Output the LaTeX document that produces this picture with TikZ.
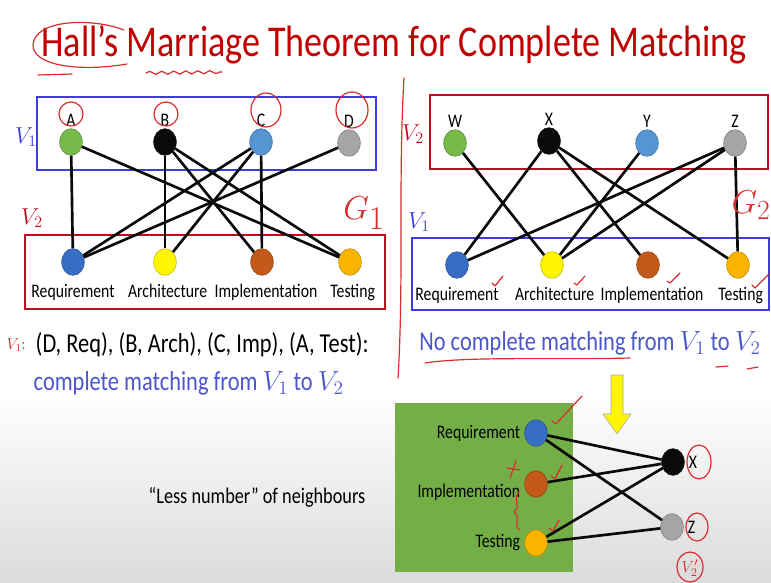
\documentclass[tikz,border=0pt]{standalone}
\usepackage{fontspec}
\setmainfont{Carlito}[FakeStretch=0.82]
\usetikzlibrary{shapes.geometric,calc,decorations.pathmorphing}
\definecolor{ttlred}{RGB}{192,0,0}
\definecolor{setblue}{RGB}{60,60,225}
\definecolor{setred}{RGB}{185,15,30}
\definecolor{txtblue}{RGB}{75,85,205}
\definecolor{inkred}{RGB}{215,45,45}
\definecolor{vgreen}{RGB}{120,185,75}
\definecolor{vblack}{RGB}{10,10,10}
\definecolor{vsky}{RGB}{85,150,210}
\definecolor{vgray}{RGB}{165,165,165}
\definecolor{vblue}{RGB}{55,110,195}
\definecolor{vyellow}{RGB}{255,245,0}
\definecolor{vbrown}{RGB}{195,90,25}
\definecolor{vorange}{RGB}{250,180,0}
\definecolor{boxgreen}{RGB}{115,175,70}
\tikzset{
  vtx/.style={ellipse,draw=#1!75!black,fill=#1,
              minimum width=17pt,minimum height=20pt,inner sep=0pt},
  lbl/.style={font=\fontsize{14.4}{16}\selectfont,inner sep=1pt},
  link/.style={line width=2pt,vblack},
  setbox/.style={line width=2pt},
  big/.style={font=\fontsize{20.5}{24}\selectfont},
  setlbl/.style={font=\fontsize{18}{20}\selectfont},
  ink/.style={inkred,line width=0.9pt,line cap=round,line join=round},
}

\begin{document}
\begin{tikzpicture}[x=0.75pt,y=-0.75pt]
\useasboundingbox (0,0) rectangle (771,582);
\shade[top color=white,bottom color=black!14] (0,392) rectangle (771,582);

% title
\node[text=ttlred,font=\fontsize{33}{38}\selectfont] (ttl) at (394,45)
  {Hall’s Marriage Theorem for Complete Matching};

% left graph G1
\draw[setbox,setblue] (37,97) rectangle (376,170);
\draw[setbox,setred] (25,235) rectangle (385,309);
\node[setlbl,text=setblue] (lv1) at (26,137) {$V_1$};
\node[setlbl,text=setred] (lv2) at (32,218) {$V_2$};
\node[vtx=vgreen,label={[lbl]above:A}] (a) at (71,142) {};
\node[vtx=vblack,label={[lbl]above:B}] (b) at (165,142) {};
\node[vtx=vsky,label={[lbl]above:C}] (c) at (261,142) {};
\node[vtx=vgray,label={[lbl]above:D}] (d) at (349,143) {};
\node[vtx=vblue,label={[lbl,yshift=-5pt]below:Requirement}] (lreq) at (73,262) {};
\node[vtx=vyellow,label={[lbl,yshift=-5pt,xshift=2pt]below:Architecture}] (larch) at (165,262) {};
\node[vtx=vbrown,label={[lbl,yshift=-5pt,xshift=3pt]below:Implementation}] (limp) at (262,262) {};
\node[vtx=vorange,label={[lbl,yshift=-5pt,xshift=2pt]below:Testing}] (ltst) at (350,262) {};
\draw[link] (a) -- (lreq);  \draw[link] (a) -- (ltst);
\draw[link] (b) -- (larch); \draw[link] (b) -- (limp); \draw[link] (b) -- (ltst);
\draw[link] (c) -- (lreq);  \draw[link] (c) -- (larch); \draw[link] (c) -- (limp);
\draw[link] (d) -- (lreq);

\node[big,anchor=west] (mtch) at (31,345) {(D, Req), (B, Arch), (C, Imp), (A, Test):};
\node[big,anchor=west,text=txtblue] (cmpl) at (29,383) {complete matching from $V_1$ to $V_2$};

% right graph G2
\draw[setbox,setred] (430,95) rectangle (768,169);
\draw[setbox,setblue] (412,238) rectangle (769,310);
\node[setlbl,text=setred] (rv2) at (413,134) {$V_2$};
\node[setlbl,text=setblue] (rv1) at (419,222) {$V_1$};
\node[vtx=vgreen,label={[lbl]above:W}] (w) at (455,143) {};
\node[vtx=vblack,label={[lbl]above:X}] (x) at (549,141) {};
\node[vtx=vsky,label={[lbl]above:Y}] (y) at (647,143) {};
\node[vtx=vgray,label={[lbl]above:Z}] (z) at (735,143) {};
\node[vtx=vblue,label={[lbl,yshift=-5pt]below:Requirement}] (rreq) at (457,265) {};
\node[vtx=vyellow,label={[lbl,yshift=-5pt,xshift=2pt]below:Architecture}] (rarch) at (552,265) {};
\node[vtx=vbrown,label={[lbl,yshift=-5pt,xshift=3pt]below:Implementation}] (rimp) at (648,265) {};
\node[vtx=vorange,label={[lbl,yshift=-5pt,xshift=2pt]below:Testing}] (rtst) at (738,265) {};
\draw[link] (w) -- (rarch);
\draw[link] (x) -- (rreq);  \draw[link] (x) -- (rimp); \draw[link] (x) -- (rtst);
\draw[link] (y) -- (rarch);
\draw[link] (z) -- (rreq);  \draw[link] (z) -- (rarch); \draw[link] (z) -- (rtst);

\node[big,text=txtblue] (nocm) at (590,343) {No complete matching from $V_1$ to $V_2$};

% arrow down to subgraph
\fill[vyellow,draw=black!35] (611,375) -- (623,375) -- (623,414) -- (631,414)
  -- (617,434) -- (603,414) -- (611,414) -- cycle;

% subgraph
\fill[boxgreen] (395,403) rectangle (573,572);
\node[vtx=vblue,label={[lbl,xshift=-2pt]left:Requirement}] (greq) at (536,433) {};
\node[vtx=vbrown,label={[lbl,xshift=-2pt,yshift=-6pt]left:Implementation}] (gimp) at (536,484) {};
\node[vtx=vorange,label={[lbl,xshift=-2pt]left:Testing}] (gtst) at (536,543) {};
\node[vtx=vblack,label={[lbl,xshift=2pt]right:X}] (gx) at (673,462) {};
\node[vtx=vgray,label={[lbl,xshift=2pt]right:Z}] (gz) at (672,527) {};
\draw[link] (greq) -- (gx); \draw[link] (greq) -- (gz);
\draw[link] (gimp) -- (gx);
\draw[link] (gtst) -- (gx); \draw[link] (gtst) -- (gz);

\node[font=\fontsize{16.7}{20}\selectfont] (less) at (257,497) {“Less number” of neighbours};

% pen marks
\draw[ink] (124,30) .. controls (90,17) and (34,20) .. (33,45)
  .. controls (33,66) and (80,72) .. (127,64);
\draw[ink] (38,75) -- (72,74);
\draw[ink,decorate,decoration={snake,amplitude=1.2pt,segment length=9pt}] (146,73) -- (222,72);
\draw[ink] (71,114) circle (12);
\draw[ink] (166,114) circle (12);
\draw[ink] (266,110) ellipse (15 and 17);
\draw[ink] (352,110) ellipse (16 and 18);
\draw[ink] (404,78) .. controls (398,180) and (404,280) .. (398,378);
\node[text=inkred,font=\fontsize{34}{36}\selectfont] (g1) at (364,213) {$G_1$};
\node[text=inkred,font=\fontsize{28}{30}\selectfont] (g2) at (751,205) {$G_2$};
\node[text=inkred,font=\fontsize{12}{14}\selectfont] (hv1) at (16,345) {$V_1$:};
\draw[ink] (492,283) -- (495,286) -- (503,276);
\draw[ink] (574,283) -- (577,285) -- (585,276);
\draw[ink] (667,281) -- (670,283) -- (680,273);
\draw[ink] (752,285) -- (755,288) -- (769,274);
\draw[ink] (425,363) .. controls (470,356) and (560,360) .. (630,358);
\draw[ink] (716,367) -- (728,366);
\draw[ink] (747,369) -- (758,367);
\draw[ink] (552,421) -- (556,424) -- (582,396);
\draw[ink] (551,476) -- (555,479) -- (562,465);
\draw[ink] (549,528) -- (553,531) -- (559,520);
\draw[ink] (507,468) -- (520,470);
\draw[ink] (516,461) -- (510,478);
\draw[ink] (519,492) .. controls (512,500) and (522,505) .. (514,512)
  .. controls (522,518) and (512,525) .. (520,530);
\draw[ink] (699,462) ellipse (12 and 17);
\draw[ink] (697,527) ellipse (11 and 14);
\node[text=inkred,font=\fontsize{13}{15}\selectfont] (v2p) at (690,568) {$V_2'$};
\draw[ink] (690,567) ellipse (13 and 15);
\end{tikzpicture}
\end{document}
